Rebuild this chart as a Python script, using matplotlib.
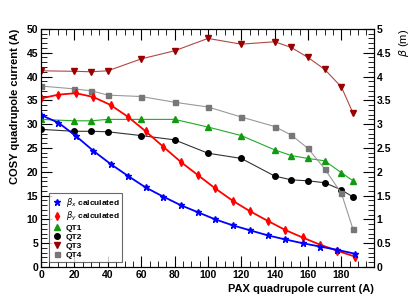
import matplotlib
matplotlib.use("Agg")
import matplotlib.pyplot as plt
from matplotlib.lines import Line2D
from matplotlib.ticker import MultipleLocator

plt.rcParams['font.family'] = ['Liberation Sans', 'DejaVu Sans']
plt.rcParams['mathtext.fontset'] = 'dejavusans'

# PAX current for calculated beta functions (A)
pax_beta = [0, 10.4, 20.9, 31.3, 41.8, 52.2, 62.7, 73.1, 83.6, 94.0,
            104.4, 114.9, 125.3, 135.8, 146.2, 156.7, 167.1, 177.6, 188.0]
beta_x = [3.19, 3.03, 2.75, 2.44, 2.16, 1.91, 1.67, 1.48, 1.30, 1.15,
          1.00, 0.875, 0.77, 0.665, 0.58, 0.50, 0.43, 0.36, 0.28]
beta_y = [3.54, 3.62, 3.65, 3.57, 3.40, 3.15, 2.85, 2.53, 2.21, 1.93,
          1.65, 1.39, 1.17, 0.97, 0.78, 0.62, 0.47, 0.34, 0.22]

# measured COSY quadrupole currents (A)
pax_qt = [0, 20, 30, 40, 60, 80, 100, 120, 140, 150, 160, 170, 180, 187]
qt1 = [31.0, 30.7, 30.7, 31.0, 31.0, 31.0, 29.4, 27.6, 24.6, 23.4, 22.8, 22.3, 19.8, 18.1]
qt2 = [28.9, 28.5, 28.5, 28.4, 27.6, 26.7, 23.9, 22.8, 19.1, 18.3, 18.1, 17.7, 16.2, 14.7]
qt3 = [41.2, 41.1, 41.0, 41.2, 43.7, 45.4, 48.0, 46.8, 47.3, 46.1, 44.0, 41.5, 37.8, 32.3]
qt4 = [38.0, 37.4, 37.0, 36.1, 35.8, 34.6, 33.6, 31.5, 29.5, 27.7, 24.9, 20.6, 15.5, 7.9]

fig = plt.figure(figsize=(4.15, 2.98), dpi=100)
ax = fig.add_axes([0.099, 0.104, 0.802, 0.799])
ax2 = ax.twinx()

ax.plot(pax_qt, qt1, '-', color='#22aa22', lw=0.8, marker='^', ms=4.5, mfc='#119911', mec='#119911')
ax.plot(pax_qt, qt2, '-', color='#333333', lw=0.8, marker='o', ms=4, mfc='black', mec='black')
ax.plot(pax_qt, qt3, '-', color='#b04848', lw=0.8, marker='v', ms=4.5, mfc='#990000', mec='#990000')
ax.plot(pax_qt, qt4, '-', color='#999999', lw=0.8, marker='s', ms=3.6, mfc='#777777', mec='#777777')

ax2.plot(pax_beta, beta_y, '-', color='red', lw=1.3, marker='d', ms=4, mfc='red', mec='red')
ax2.plot(pax_beta, beta_x, '-', color='blue', lw=1.3, marker='*', ms=5, mfc='blue', mec='blue')

ax.set_xlim(0, 199.5)
ax.set_ylim(0, 50)
ax2.set_ylim(0, 5)

ax.set_xticks([0, 20, 40, 60, 80, 100, 120, 140, 160, 180])
ax.xaxis.set_minor_locator(MultipleLocator(5))
ax.yaxis.set_major_locator(MultipleLocator(5))
ax.yaxis.set_minor_locator(MultipleLocator(1))
ax2.yaxis.set_minor_locator(MultipleLocator(0.1))
ax2.set_yticks([0, 0.5, 1, 1.5, 2, 2.5, 3, 3.5, 4, 4.5, 5])
ax2.set_yticklabels(['0', '0.5', '1', '1.5', '2', '2.5', '3', '3.5', '4', '4.5', '5'])

ax.tick_params(which='both', direction='in', top=True, right=False, labelsize=7.5, pad=2)
ax.tick_params(which='major', length=8, width=0.8)
ax.tick_params(which='minor', length=4, width=0.6)
ax2.tick_params(which='both', direction='in', labelsize=7.5, pad=2)
ax2.tick_params(which='major', length=8, width=0.8)
ax2.tick_params(which='minor', length=4, width=0.6)
for lab in ax.get_xticklabels() + ax.get_yticklabels() + ax2.get_yticklabels():
    lab.set_fontweight('bold')

ax.set_xlabel('PAX quadrupole current (A)', loc='right', fontsize=8, fontweight='bold', labelpad=3)
ax.set_ylabel('COSY quadrupole current (A)', loc='top', fontsize=8, fontweight='bold', labelpad=5)
ax2.set_ylabel(r'$\beta$ (m)', loc='top', fontsize=8, labelpad=4)

handles = [
    Line2D([], [], ls='none', marker='*', ms=5, color='blue'),
    Line2D([], [], ls='none', marker='d', ms=4, color='red'),
    Line2D([], [], ls='none', marker='^', ms=4.5, color='#119911'),
    Line2D([], [], ls='none', marker='o', ms=4, color='black'),
    Line2D([], [], ls='none', marker='v', ms=4.5, color='#990000'),
    Line2D([], [], ls='none', marker='s', ms=3.6, color='#777777'),
]
labels = [r'$\beta_x$ calculated', r'$\beta_y$ calculated', 'QT1', 'QT2', 'QT3', 'QT4']
leg = ax.legend(handles, labels, loc='lower left', bbox_to_anchor=(0.024, 0.022),
                fontsize=6, frameon=True, fancybox=False, edgecolor='#444444',
                borderpad=0.3, labelspacing=0.15, handletextpad=0.5, handlelength=1.2,
                borderaxespad=0)
leg.get_frame().set_linewidth(0.8)
for t in leg.get_texts():
    t.set_fontweight('bold')

fig.savefig('out.png', dpi=100)
